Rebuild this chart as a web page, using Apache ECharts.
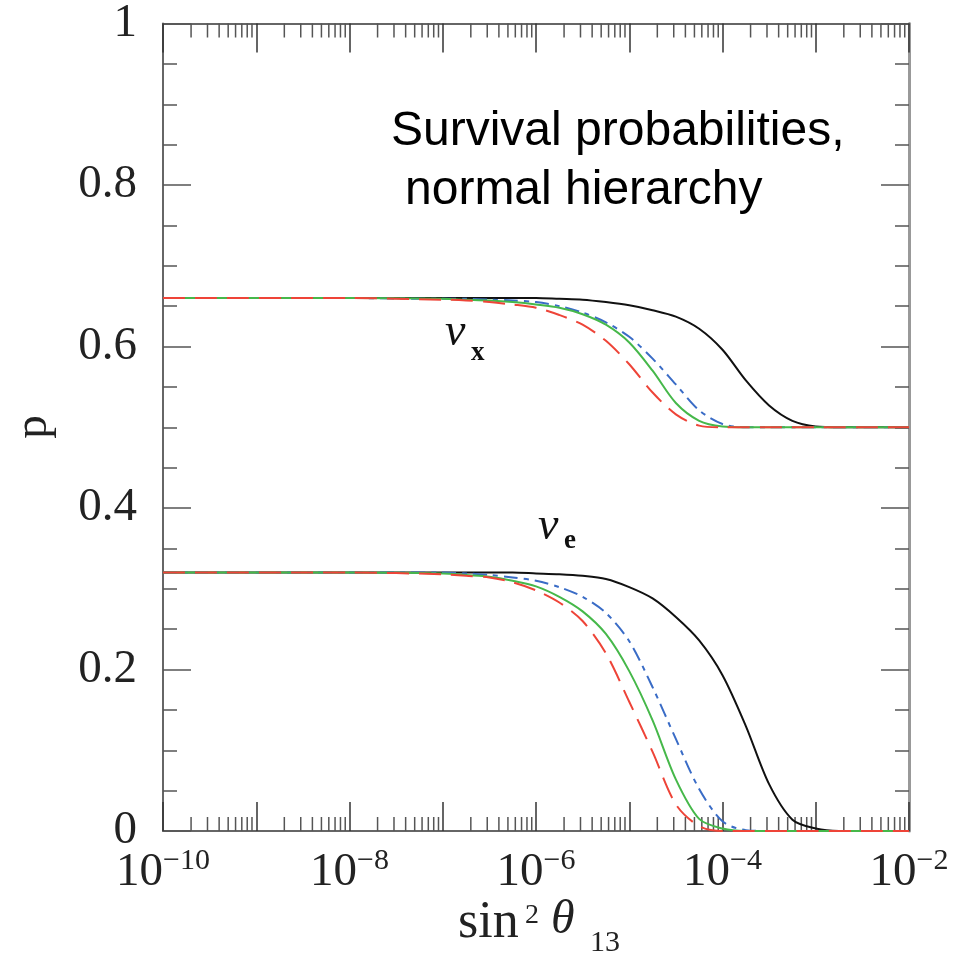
<!DOCTYPE html>
<html><head><meta charset="utf-8">
<script src="https://cdn.jsdelivr.net/npm/echarts@6/dist/echarts.min.js"></script>
<style>html,body{margin:0;padding:0;background:#fff}#c{width:968px;height:955px}</style>
</head><body><div id="c"></div>
<script>
// sin^2(theta13) sample positions
const sinSq = [1e-10, 1e-8, 1e-7, 1.78e-7, 3.16e-7, 5.62e-7, 1e-6, 1.78e-6, 3.16e-6, 5.62e-6, 1e-5, 1.78e-5, 3.16e-5, 5.62e-5, 1e-4, 1.78e-4, 3.16e-4, 5.62e-4, 1e-3, 1.78e-3, 3.16e-3, 1e-2];
// nu_x survival probabilities
const nuXBlack = [0.66,0.66,0.66,0.66,0.66,0.66,0.66,0.659,0.658,0.655,0.651,0.645,0.637,0.622,0.596,0.558,0.527,0.508,0.501,0.5,0.5,0.5];
const nuXBlue  = [0.66,0.66,0.659,0.659,0.658,0.657,0.655,0.650,0.642,0.630,0.612,0.585,0.553,0.521,0.504,0.5,0.5,0.5,0.5,0.5,0.5,0.5];
const nuXGreen = [0.66,0.66,0.659,0.658,0.657,0.655,0.652,0.648,0.640,0.627,0.605,0.570,0.530,0.508,0.501,0.5,0.5,0.5,0.5,0.5,0.5,0.5];
const nuXRed   = [0.66,0.66,0.658,0.657,0.655,0.652,0.648,0.639,0.627,0.607,0.578,0.543,0.516,0.502,0.5,0.5,0.5,0.5,0.5,0.5,0.5,0.5];
// nu_e survival probabilities
const nuEBlack = [0.32,0.32,0.32,0.32,0.32,0.32,0.319,0.318,0.316,0.312,0.302,0.288,0.265,0.236,0.193,0.130,0.058,0.014,0.003,0,0,0];
const nuEBlue  = [0.32,0.32,0.32,0.319,0.317,0.314,0.310,0.302,0.290,0.270,0.235,0.178,0.114,0.052,0.012,0.001,0,0,0,0,0,0];
const nuEGreen = [0.32,0.32,0.319,0.317,0.315,0.310,0.303,0.290,0.272,0.244,0.198,0.137,0.064,0.015,0.003,0,0,0,0,0,0,0];
const nuERed   = [0.32,0.32,0.318,0.316,0.314,0.308,0.298,0.283,0.260,0.220,0.160,0.098,0.033,0.006,0,0,0,0,0,0,0,0];
// axis labels
const yTickLabels = ['0', '0.2', '0.4', '0.6', '0.8', '1'];
const xLabelExponents = [-10, -8, -6, -4, -2];

const minorX = [];
for (let d = -10; d < -2; d++) for (let k = 2; k <= 9; k++) minorX.push([k * Math.pow(10, d), 0]);

const SERIF = '"Liberation Serif", "DejaVu Serif", serif';
const AXC = '#666';

function mk(name, data, color, dash) {
  return {
    type: 'line', name, data: sinSq.map((x, i) => [x, data[i]]),
    xAxisIndex: 0, yAxisIndex: 0, showSymbol: false, symbol: 'none',
    smooth: 0.3, clip: true,
    lineStyle: { color, width: 2, type: dash || 'solid', cap: 'butt' }, z: 3
  };
}

const xAxisCommon = {
  type: 'log', logBase: 10, min: 1e-10, max: 1e-2, interval: 1,
  axisLine: { show: true, onZero: false, lineStyle: { color: AXC, width: 2 } },
  axisTick: { show: true, inside: true, length: 29, lineStyle: { color: '#333', width: 1.5 } },
  splitLine: { show: false }, minorTick: { show: false }
};
const yAxisCommon = {
  type: 'value', min: 0, max: 1, interval: 0.2,
  axisLine: { show: true, onZero: false, lineStyle: { color: AXC, width: 2 } },
  axisTick: { show: true, inside: true, length: 28, lineStyle: { color: '#555', width: 1.5 } },
  minorTick: { show: true, splitNumber: 4, length: 14, lineStyle: { color: '#555', width: 1.5 } },
  splitLine: { show: false }
};

const option = {
  animation: false,
  backgroundColor: '#fff',
  grid: { left: 163, right: 59, top: 23, bottom: 124, containLabel: false },
  xAxis: [
    Object.assign({}, xAxisCommon, {
      position: 'bottom',
      axisLabel: {
        show: true, margin: 15,
        formatter: function (v) {
          const e = Math.round(Math.log10(v));
          if (xLabelExponents.indexOf(e) < 0) return '';
          return '{b|10}{s|\u2212' + Math.abs(e) + '}';
        },
        rich: {
          b: { fontFamily: SERIF, fontSize: 47, color: '#222', lineHeight: 50, verticalAlign: 'bottom' },
          s: { fontFamily: SERIF, fontSize: 30, color: '#222', lineHeight: 30, verticalAlign: 'top' }
        }
      }
    }),
    Object.assign({}, xAxisCommon, { position: 'top', axisLabel: { show: false } })
  ],
  yAxis: [
    Object.assign({}, yAxisCommon, {
      position: 'left',
      axisLabel: {
        show: true, margin: 26, fontFamily: SERIF, fontSize: 47, color: '#222',
        formatter: function (v) {
          const s = String(Math.round(v * 10) / 10);
          return yTickLabels.indexOf(s) >= 0 ? s : '';
        }
      }
    }),
    Object.assign({}, yAxisCommon, { position: 'right', axisLabel: { show: false },
      axisLine: { show: true, onZero: false, lineStyle: { color: '#999', width: 3 } } })
  ],
  series: [
    {
      type: 'custom', name: 'minorTicks', coordinateSystem: 'cartesian2d',
      xAxisIndex: 0, yAxisIndex: 0, data: minorX, z: 2, silent: true,
      renderItem: function (params, api) {
        const x = api.coord([api.value(0), 0])[0];
        const yb = api.coord([api.value(0), 0])[1];
        const yt = api.coord([api.value(0), 1])[1];
        const st = { stroke: '#555', lineWidth: 1.5 };
        return {
          type: 'group', children: [
            { type: 'line', shape: { x1: x, y1: yb, x2: x, y2: yb - 14 }, style: st },
            { type: 'line', shape: { x1: x, y1: yt, x2: x, y2: yt + 14 }, style: st }
          ]
        };
      }
    },
    mk('nu_x black', nuXBlack, '#111'),
    mk('nu_x blue', nuXBlue, '#3a6cc6', [14, 6, 5, 6]),
    mk('nu_x green', nuXGreen, '#46b84a'),
    mk('nu_x red', nuXRed, '#ee4438', [22, 10]),
    mk('nu_e black', nuEBlack, '#111'),
    mk('nu_e blue', nuEBlue, '#3a6cc6', [14, 6, 5, 6]),
    mk('nu_e green', nuEGreen, '#46b84a'),
    mk('nu_e red', nuERed, '#ee4438', [22, 10])
  ],
  graphic: [
    { type: 'text', left: 391, top: 108, style: { text: 'Survival probabilities,', font: '48px "Liberation Sans", Arial, sans-serif', fill: '#000' } },
    { type: 'text', left: 405, top: 167, style: { text: 'normal hierarchy', font: '48px "Liberation Sans", Arial, sans-serif', fill: '#000' } },
    { type: 'text', left: 445, top: 310, style: { text: '\u03bd', font: 'italic 46px ' + SERIF, fill: '#111' } },
    { type: 'text', left: 471, top: 340, style: { text: 'x', font: 'bold 27px ' + SERIF, fill: '#111' } },
    { type: 'text', left: 538, top: 504, style: { text: '\u03bd', font: 'italic 46px ' + SERIF, fill: '#111' } },
    { type: 'text', left: 564, top: 528, style: { text: 'e', font: 'bold 27px ' + SERIF, fill: '#111' } },
    { type: 'text', x: 34, y: 427, rotation: Math.PI / 2, style: { text: 'p', font: '47px ' + SERIF, fill: '#222', align: 'center', verticalAlign: 'middle' } },
    { type: 'text', left: 458, top: 897, style: { text: 'sin', font: '52px ' + SERIF, fill: '#222' } },
    { type: 'text', left: 525, top: 902, style: { text: '2', font: '28px ' + SERIF, fill: '#222' } },
    { type: 'text', left: 551, top: 896, style: { text: '\u03b8', font: 'italic 48px ' + SERIF, fill: '#222' } },
    { type: 'text', left: 590, top: 928, style: { text: '13', font: '30px ' + SERIF, fill: '#222' } }
  ]
};
const chart = echarts.init(document.getElementById('c'), null, { renderer: 'canvas' });
chart.setOption(option);
</script></body></html>
